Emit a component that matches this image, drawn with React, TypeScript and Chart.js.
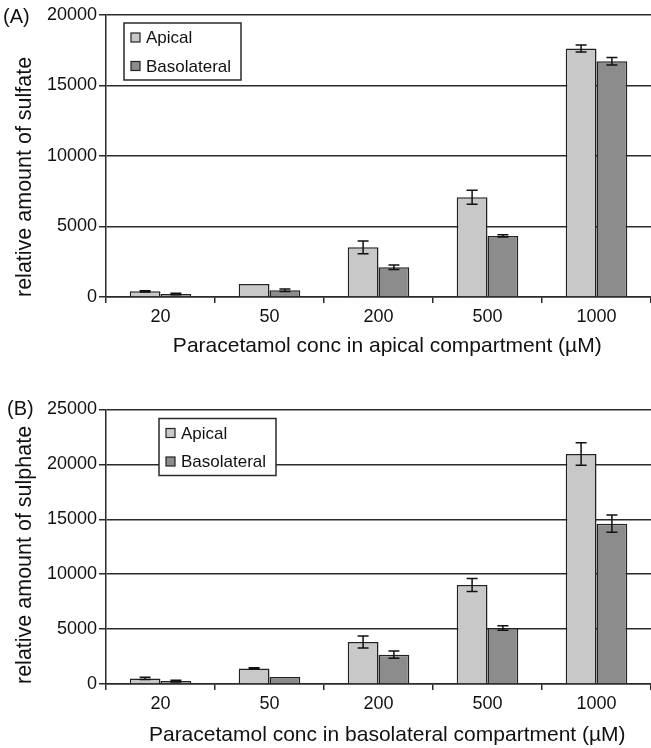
import React, { useEffect, useRef } from "react";
import { Chart, registerables } from "chart.js";

Chart.register(...registerables);

const categories = ["20", "50", "200", "500", "1000"];
const seriesNames = ["Apical", "Basolateral"];

const apicalA = [400, 920, 3520, 7070, 17620];
const apicalErrA = [50, 0, 450, 500, 250];
const basoA = [210, 475, 2110, 4330, 16720];
const basoErrA = [50, 90, 160, 80, 260];

const apicalB = [510, 1420, 3830, 9020, 20950];
const apicalErrB = [100, 60, 550, 590, 1030];
const basoB = [270, 640, 2670, 5100, 14600];
const basoErrB = [80, 0, 330, 200, 790];

const yTicksA = [0, 5000, 10000, 15000, 20000];
const yTicksB = [0, 5000, 10000, 15000, 20000, 25000];

const FONT = "'Liberation Sans', Arial, Helvetica, sans-serif";
const LIGHT = "#c8c8c8";
const DARK = "#8c8c8c";
const LINE = "#2a2a2a";

type PanelProps = {
  label: string;
  labelX: number;
  labelY: number;
  height: number;
  padTop: number;
  xAxisHeight: number;
  yTicks: number[];
  apical: number[];
  apicalErr: number[];
  baso: number[];
  basoErr: number[];
  yTitle: string;
  xTitle: string;
  xTitlePad: number;
  legendX: number;
  legendY: number;
};

function Panel(p: PanelProps) {
  const ref = useRef<HTMLCanvasElement | null>(null);
  useEffect(() => {
    const canvas = ref.current;
    if (!canvas) return;
    const errs = [p.apicalErr, p.basoErr];
    const errorBars = {
      id: "errorBars",
      afterDatasetsDraw(chart: any) {
        const ctx = chart.ctx;
        const ys = chart.scales.y;
        ctx.save();
        ctx.strokeStyle = "#111";
        ctx.lineWidth = 1.5;
        chart.data.datasets.forEach((ds: any, i: number) => {
          const meta = chart.getDatasetMeta(i);
          meta.data.forEach((el: any, j: number) => {
            const e = errs[i][j];
            if (!e) return;
            const v = ds.data[j];
            const yT = ys.getPixelForValue(v + e);
            const yB = ys.getPixelForValue(v - e);
            const x = el.x;
            ctx.beginPath();
            ctx.moveTo(x, yT);
            ctx.lineTo(x, yB);
            ctx.moveTo(x - 5.5, yT);
            ctx.lineTo(x + 5.5, yT);
            ctx.moveTo(x - 5.5, yB);
            ctx.lineTo(x + 5.5, yB);
            ctx.stroke();
          });
        });
        ctx.restore();
      },
    };
    const boxLegend = {
      id: "boxLegend",
      afterDraw(chart: any) {
        const ctx = chart.ctx;
        const area = chart.chartArea;
        const bx = area.left + p.legendX;
        const by = area.top + p.legendY;
        const bw = 117;
        const bh = 57;
        ctx.save();
        ctx.fillStyle = "#fff";
        ctx.fillRect(bx, by, bw, bh);
        ctx.strokeStyle = LINE;
        ctx.lineWidth = 1.5;
        ctx.strokeRect(bx, by, bw, bh);
        const rows = [14.5, 43];
        chart.data.datasets.forEach((ds: any, i: number) => {
          const cy = by + rows[i];
          ctx.fillStyle = ds.backgroundColor;
          ctx.fillRect(bx + 7, cy - 4.5, 9, 9);
          ctx.strokeStyle = "#222";
          ctx.lineWidth = 1.2;
          ctx.strokeRect(bx + 7, cy - 4.5, 9, 9);
          ctx.fillStyle = "#111";
          ctx.font = "17px " + FONT;
          ctx.textBaseline = "middle";
          ctx.textAlign = "left";
          ctx.fillText(ds.label, bx + 22, cy + 1);
        });
        ctx.font = "20px " + FONT;
        ctx.fillStyle = "#111";
        ctx.textBaseline = "middle";
        ctx.textAlign = "left";
        ctx.fillText(p.label, p.labelX, p.labelY);
        ctx.restore();
      },
    };
    const yMax = p.yTicks[p.yTicks.length - 1];
    const chart = new Chart(canvas, {
      type: "bar",
      data: {
        labels: categories,
        datasets: [
          {
            label: seriesNames[0],
            data: p.apical,
            backgroundColor: LIGHT,
            borderColor: "#222",
            borderWidth: 1.5,
            categoryPercentage: 0.565,
            barPercentage: 1,
          },
          {
            label: seriesNames[1],
            data: p.baso,
            backgroundColor: DARK,
            borderColor: "#222",
            borderWidth: 1.5,
            categoryPercentage: 0.565,
            barPercentage: 1,
          },
        ],
      },
      options: {
        responsive: false,
        animation: false,
        devicePixelRatio: 1,
        layout: { padding: { top: p.padTop, left: 0, right: 0, bottom: 0 } },
        plugins: {
          legend: { display: false },
          tooltip: { enabled: false },
          title: { display: false },
        },
        scales: {
          x: {
            offset: true,
            grid: {
              display: true,
              offset: true,
              drawOnChartArea: false,
              drawTicks: true,
              tickLength: 6,
              color: LINE,
              lineWidth: 1.5,
            },
            border: { display: true, color: LINE, width: 1.5 },
            ticks: {
              color: "#111",
              font: { family: FONT, size: 18 },
              padding: 3,
              maxRotation: 0,
            },
            title: {
              display: true,
              text: "   " + p.xTitle,
              color: "#111",
              font: { family: FONT, size: 21 },
              padding: { top: 0, bottom: p.xTitlePad },
            },
            afterFit(scale: any) {
              scale.height = p.xAxisHeight;
            },
          },
          y: {
            min: 0,
            max: yMax,
            afterBuildTicks(scale: any) {
              scale.ticks = p.yTicks.map((v) => ({ value: v }));
            },
            grid: {
              color: LINE,
              lineWidth: 1.5,
              drawTicks: true,
              tickLength: 7,
            },
            border: { display: true, color: LINE, width: 1.5 },
            ticks: {
              color: "#111",
              font: { family: FONT, size: 18 },
              padding: 2,
              callback: (v: any) => String(v),
            },
            title: {
              display: true,
              text: p.yTitle,
              align: "start",
              color: "#111",
              font: { family: FONT, size: 21.5 },
              padding: { top: 12, bottom: 0 },
            },
            afterFit(scale: any) {
              scale.width = 106;
            },
          },
        },
      },
      plugins: [errorBars, boxLegend],
    } as any);
    return () => chart.destroy();
  }, []);
  return (
    <canvas
      ref={ref}
      width={651}
      height={p.height}
      style={{ display: "block", width: 651, height: p.height }}
    />
  );
}

export default function App() {
  return (
    <div
      style={{
        position: "fixed",
        left: 0,
        top: 0,
        width: 651,
        height: 748,
        background: "#fff",
      }}
    >
      <Panel
        label="(A)"
        labelX={3}
        labelY={17}
        height={362}
        padTop={15}
        xAxisHeight={65}
        yTicks={yTicksA}
        apical={apicalA}
        apicalErr={apicalErrA}
        baso={basoA}
        basoErr={basoErrA}
        yTitle="relative amount of sulfate"
        xTitle="Paracetamol conc in apical compartment (µM)"
        xTitlePad={3}
        legendX={18}
        legendY={8}
      />
      <Panel
        label="(B)"
        labelX={7}
        labelY={47}
        height={386}
        padTop={47.5}
        xAxisHeight={64}
        yTicks={yTicksB}
        apical={apicalB}
        apicalErr={apicalErrB}
        baso={basoB}
        basoErr={basoErrB}
        yTitle="relative amount of sulphate"
        xTitle="Paracetamol conc in basolateral compartment (µM)"
        xTitlePad={0}
        legendX={53}
        legendY={9}
      />
    </div>
  );
}
